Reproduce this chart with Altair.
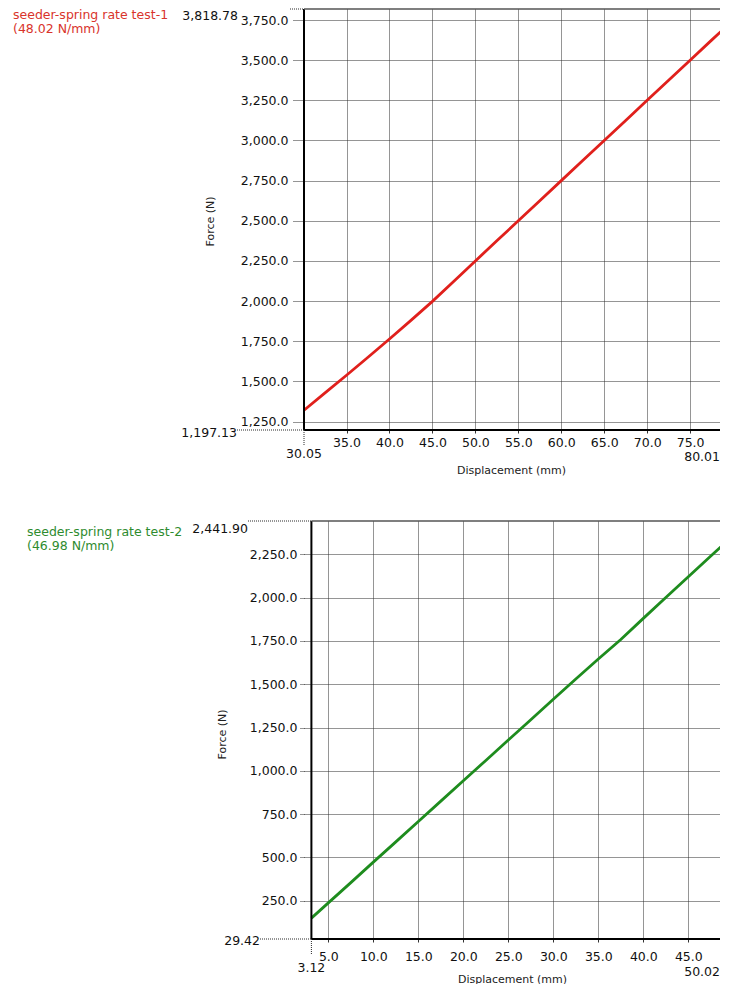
import altair as alt
import pandas as pd

# ---------------- data ----------------
disp1 = [30.05, 32.5, 35.0, 37.5, 40.0, 42.5, 45.0, 47.5, 50.0, 52.5, 55.0,
         57.5, 60.0, 62.5, 65.0, 67.5, 70.0, 72.5, 75.0, 77.5, 80.01]
force1 = [1320, 1428, 1538, 1650, 1764, 1880, 1998, 2123, 2250, 2375, 2500,
          2625, 2750, 2875, 3000, 3125, 3250, 3375, 3500, 3625, 3750]

disp2 = [3.12, 5.0, 7.5, 10.0, 12.5, 15.0, 17.5, 20.0, 22.5, 25.0, 27.5,
         30.0, 32.5, 35.0, 37.5, 40.0, 42.5, 45.0, 47.5, 50.02]
force2 = [150, 238, 355, 473, 590, 708, 825, 943, 1060, 1178, 1295,
          1413, 1530, 1645, 1758, 1880, 2000, 2120, 2240, 2360]

x1_range = [30.05, 80.01]
y1_range = [1197.13, 3818.78]
x2_range = [3.12, 50.02]
y2_range = [29.42, 2441.90]

x1_ticks = [35.0, 40.0, 45.0, 50.0, 55.0, 60.0, 65.0, 70.0, 75.0]
y1_ticks = [1250, 1500, 1750, 2000, 2250, 2500, 2750, 3000, 3250, 3500, 3750]
x2_ticks = [5.0, 10.0, 15.0, 20.0, 25.0, 30.0, 35.0, 40.0, 45.0]
y2_ticks = [250, 500, 750, 1000, 1250, 1500, 1750, 2000, 2250]

legend1 = ["seeder-spring rate test-1", "(48.02 N/mm)"]
legend2 = ["seeder-spring rate test-2", "(46.98 N/mm)"]

x_title = "Displacement (mm)"
y_title = "Force (N)"

FONT = "DejaVu Sans"
GRID = "#2a2a2a"
LABEL = "#111111"
FS = 12.5


def panel(disp, force, xr, yr, xticks, yticks, line_color, text_color, legend, P):
    xmin, xmax = xr
    ymin, ymax = yr
    W, H, shift, ppu = P["W"], P["H"], P["shift"], P["ppu"]
    # the reference window crops the right part of the plot: keep its pixel scale
    x_lo = xmin - shift / ppu
    x_hi = xmin + (W - shift) / ppu
    sx = alt.Scale(domain=[x_lo, x_hi], nice=False, zero=False)
    sy = alt.Scale(domain=[ymin, ymax], nice=False, zero=False)
    df = pd.DataFrame({"d": disp, "f": force})
    one = pd.DataFrame({"k": [0]})

    xaxis = alt.Axis(values=xticks, format=".1f", title=x_title, domain=False,
                     grid=True, gridColor=GRID, gridDash=[1, 1], gridWidth=1,
                     ticks=True, tickSize=3, tickColor="#333333", tickWidth=1,
                     labelPadding=P["xlabpad"], labelFont=FONT, labelFontSize=FS,
                     labelColor=LABEL, labelFlush=False, labelOverlap=False,
                     titleFont=FONT, titleFontSize=11, titleFontWeight="normal",
                     titleColor="#222222", titleX=P["xtitle_x"], titleY=P["xtitle_y"],
                     titleBaseline="middle", titleAlign="center")
    yaxis = alt.Axis(values=yticks, format=",.1f", title=y_title, domain=False,
                     grid=True, gridColor=GRID, gridDash=[1, 1], gridWidth=1,
                     ticks=True, tickSize=P["ytick"], tickColor=GRID, tickDash=[1, 1],
                     labelPadding=P["ylabpad"], labelFont=FONT, labelFontSize=FS,
                     labelColor=LABEL, labelFlush=False, labelOverlap=False,
                     titleFont=FONT, titleFontSize=11, titleFontWeight="normal",
                     titleColor="#222222", titleX=P["ytitle_x"], titleY=P["ytitle_y"],
                     titleAngle=270, titleBaseline="middle", titleAlign="center")

    def XD(v):
        return alt.XDatum(v, scale=sx, type="quantitative")

    def YD(v):
        return alt.YDatum(v, scale=sy, type="quantitative")

    line = alt.Chart(df).mark_line(color=line_color, strokeWidth=2.8, clip=True).encode(
        x=alt.X("d:Q", scale=sx, axis=xaxis),
        y=alt.Y("f:Q", scale=sy, axis=yaxis),
    )
    left_axis = alt.Chart(one).mark_rule(color="#000000", strokeWidth=2).encode(
        x=XD(xmin), y=YD(ymin), y2=alt.Y2Datum(ymax))
    bottom_axis = alt.Chart(one).mark_rule(color="#000000", strokeWidth=2).encode(
        x=XD(xmin), x2=alt.value(W), y=YD(ymin))
    top_border = alt.Chart(one).mark_rule(color="#555555", strokeWidth=1.5).encode(
        x=XD(xmin), x2=alt.value(W), y=YD(ymax))

    top_dot = alt.Chart(one).mark_rule(color=GRID, strokeDash=[1, 1]).encode(
        x=alt.value(P["top_dot_x"]), x2=alt.value(shift), y=YD(ymax))
    bot_dot = alt.Chart(one).mark_rule(color=GRID, strokeDash=[1, 1]).encode(
        x=alt.value(P["bot_dot_x"]), x2=alt.value(shift), y=YD(ymin))
    vert_dot = alt.Chart(one).mark_rule(color=GRID, strokeDash=[1, 1]).encode(
        x=XD(xmin), y=YD(ymin), y2=alt.value(H + 16))

    tkw = dict(font=FONT, fontSize=FS, color=LABEL)
    ymax_lbl = alt.Chart(one).mark_text(text=f"{ymax:,.2f}", align="right", baseline="top",
                                        dy=P["ymax_dy"], **tkw).encode(
        x=alt.value(P["ymax_x"]), y=YD(ymax))
    ymin_lbl = alt.Chart(one).mark_text(text=f"{ymin:,.2f}", align="right", baseline="middle",
                                        dy=P["ymin_dy"], **tkw).encode(
        x=alt.value(P["ymin_x"]), y=YD(ymin))
    xmin_lbl = alt.Chart(one).mark_text(text=f"{xmin:.2f}", align="center", baseline="middle",
                                        dy=P["xmin_dy"], **tkw).encode(
        x=XD(xmin), y=YD(ymin))
    xmax_lbl = alt.Chart(one).mark_text(text=f"{xmax:.2f}", align="right", baseline="middle",
                                        dy=P["xmax_dy"], **tkw).encode(
        x=alt.value(W), y=YD(ymin))

    leg = alt.Chart(one).mark_text(text=legend, align="left", baseline="top", lineHeight=14,
                                   font=FONT, fontSize=FS, color=text_color).encode(
        x=alt.value(P["leg_x"]), y=alt.value(P["leg_y"]))

    return alt.layer(line, left_axis, bottom_axis, top_border, top_dot, bot_dot, vert_dot,
                     ymax_lbl, ymin_lbl, xmin_lbl, xmax_lbl, leg).properties(width=W, height=H)


P1 = dict(W=416, H=421, shift=0, ppu=8.59, xlabpad=3, ytick=11, ylabpad=5,
          xtitle_x=207, xtitle_y=40, ytitle_x=-94, ytitle_y=212,
          top_dot_x=-14, bot_dot_x=-67, ymax_x=-66, ymax_dy=1, ymin_x=-67, ymin_dy=3,
          xmin_dy=24, xmax_dy=27, leg_x=-291, leg_y=0)
P2 = dict(W=416, H=418, shift=7.4, ppu=9.0, xlabpad=8, ytick=4.5, ylabpad=2.5,
          xtitle_x=208, xtitle_y=40, ytitle_x=-82, ytitle_y=213,
          top_dot_x=-56, bot_dot_x=-44, ymax_x=-56, ymax_dy=2, ymin_x=-44, ymin_dy=2,
          xmin_dy=29, xmax_dy=33, leg_x=-277, leg_y=5)

p1 = panel(disp1, force1, x1_range, y1_range, x1_ticks, y1_ticks,
           "#e0201c", "#d9342b", legend1, P1)
p2 = panel(disp2, force2, x2_range, y2_range, x2_ticks, y2_ticks,
           "#1e8c1e", "#2e8b2e", legend2, P2)

chart = alt.vconcat(p1, p2, spacing=45).configure_view(stroke=None).properties(
    padding={"left": 5, "top": 0, "right": 0, "bottom": 0}, background="white")

chart.save("out.html", embed_options={"renderer": "svg", "actions": False})
